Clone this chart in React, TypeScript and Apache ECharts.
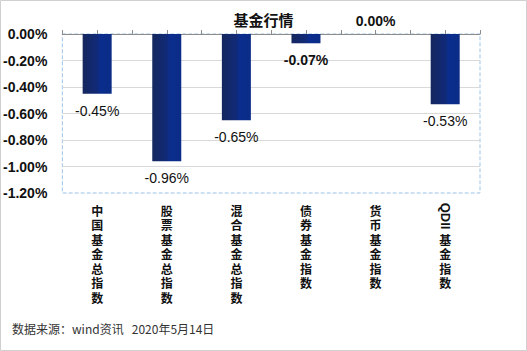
import React, { useEffect, useRef } from "react";
import * as echarts from "echarts";

const categories = ["中国基金总指数", "股票基金总指数", "混合基金总指数", "债券基金指数", "货币基金指数", "QDII基金指数"];
const values = [-0.45, -0.96, -0.65, -0.07, 0.0, -0.53];
const boldLabels = [false, false, false, true, true, false];
const yMin = -1.2;
const yMax = 0;
const yStep = 0.2;
const titleText = "基金行情";
const footerText = "数据来源：wind资讯   2020年5月14日";

const GRID = { left: 62, right: 47, top: 34, bottom: 158 };

export default function App() {
  const ref = useRef<HTMLDivElement>(null);
  useEffect(() => {
    const chart = echarts.init(ref.current!, null, { renderer: "svg" });
    const barColor = new echarts.graphic.LinearGradient(0, 0, 1, 0, [
      { offset: 0, color: "#15275e" },
      { offset: 0.5, color: "#112a78" },
      { offset: 0.62, color: "#0a2d8e" },
      { offset: 1, color: "#0b2c86" },
    ]);
    const option: any = {
      animation: false,
      backgroundColor: "#ffffff",
      title: {
        text: titleText,
        left: "center",
        top: 7,
        textStyle: { fontFamily: "Noto Sans CJK SC", fontSize: 15, fontWeight: "bold", color: "#111" },
      },
      grid: {
        ...GRID,
        show: true,
        borderColor: "#9dc3e6",
        borderWidth: 1,
        borderType: "dashed",
        backgroundColor: "transparent",
      },
      xAxis: [
        {
          type: "category",
          data: categories,
          position: "bottom",
          axisLine: { show: false, onZero: false },
          axisTick: { show: false },
          axisLabel: {
            interval: 0,
            margin: 10,
            fontFamily: "Noto Sans CJK SC",
            fontSize: 12,
            fontWeight: "bold",
            lineHeight: 14.5,
            color: "#111",
            verticalAlign: "top",
            formatter: (v: string) => {
              const m = v.match(/^[A-Za-z]+/);
              const rest = m ? v.slice(m[0].length) : v;
              const chars = rest.split("");
              return (m ? "\n\n" : "") + chars.join("\n");
            },
          },
        },
        {
          type: "value",
          position: "top",
          min: 0,
          max: categories.length,
          interval: 0.5,
          axisLine: { show: true, onZero: false, lineStyle: { color: "#8c8c8c", width: 1 } },
          axisTick: { show: true, length: 4, lineStyle: { color: "#8c8c8c" } },
          axisLabel: { show: false },
          splitLine: { show: false },
        },
      ],
      yAxis: {
        type: "value",
        min: yMin,
        max: yMax,
        interval: yStep,
        axisLine: { show: false },
        axisTick: { show: false },
        splitLine: { show: true, showMinLine: false, showMaxLine: false, lineStyle: { color: "#d9d9d9", width: 1 } },
        axisLabel: {
          margin: 15,
          fontFamily: "Liberation Sans",
          fontSize: 14,
          fontWeight: "bold",
          color: "#111",
          formatter: (v: number) => Math.abs(v).toFixed(2) === "0.00" ? "0.00%" : v.toFixed(2) + "%",
        },
      },
      series: [
        {
          type: "bar",
          xAxisIndex: 0,
          barWidth: 29,
          data: values.map((v, i) => ({
            value: v,
            label: {
              position: v === 0 ? "top" : "bottom",
              distance: v === 0 ? 6 : 10,
              fontWeight: boldLabels[i] ? "bold" : "normal",
            },
          })),
          itemStyle: { color: barColor },
          label: {
            show: true,
            fontFamily: "Liberation Sans",
            fontSize: 14,
            color: "#111",
            formatter: (p: any) => (p.value === 0 ? "0.00" : p.value.toFixed(2)) + "%",
          },
        },
      ],
    };
    chart.setOption(option);

    const graphics: any[] = [
      {
        type: "rect",
        shape: { x: 0.5, y: 0.5, width: 526, height: 350 },
        style: { fill: "none", stroke: "#d0d0d0", lineWidth: 1 },
        silent: true,
      },
      {
        type: "text",
        left: 12,
        top: 322,
        style: { text: footerText, font: "12px 'Noto Sans CJK SC'", fill: "#333" },
      },
    ];
    categories.forEach((c) => {
      const m = c.match(/^[A-Za-z]+/);
      if (m) {
        const px = chart.convertToPixel({ xAxisIndex: 0 }, c) as number;
        const py = chart.convertToPixel({ yAxisIndex: 0 }, yMin) as number;
        graphics.push({
          type: "text",
          x: px,
          y: py + 23,
          rotation: -Math.PI / 2,
          style: {
            text: m[0],
            font: "bold 13px 'Liberation Sans'",
            fill: "#111",
            align: "center",
            verticalAlign: "middle",
          },
        });
      }
    });
    chart.setOption({ graphic: graphics });
    return () => chart.dispose();
  }, []);
  return <div ref={ref} style={{ position: "fixed", left: 0, top: 0, width: 527, height: 351 }} />;
}
